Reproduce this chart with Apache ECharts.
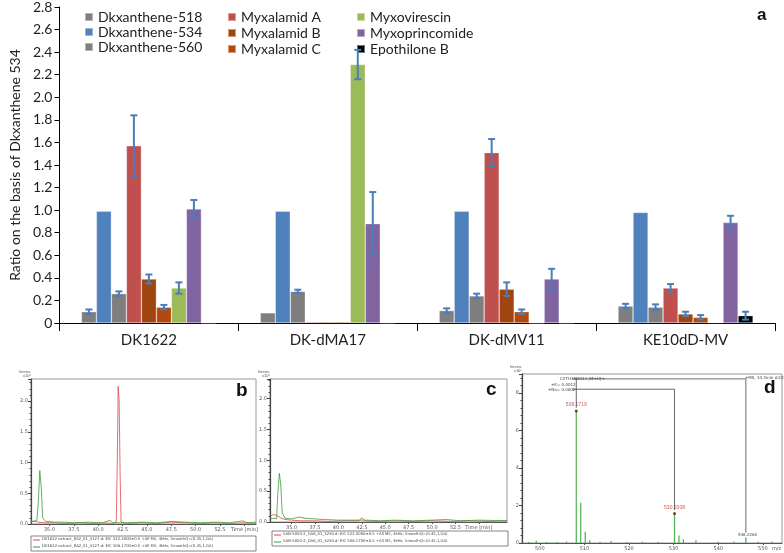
<!DOCTYPE html>
<html><head><meta charset="utf-8">
<script src="https://cdn.jsdelivr.net/npm/echarts@6/dist/echarts.min.js"></script>
<style>html,body{margin:0;padding:0;background:#fff}#c{width:784px;height:553px}</style>
</head><body><div id="c"></div><script>
// ---------- main bar chart (a) ----------
const categories = ['DK1622', 'DK-dMA17', 'DK-dMV11', 'KE10dD-MV'];
const seriesNames = ['Dkxanthene-518', 'Dkxanthene-534', 'Dkxanthene-560', 'Myxalamid A', 'Myxalamid B', 'Myxalamid C', 'Myxovirescin', 'Myxoprincomide', 'Epothilone B'];
const dk518 = [0.10, 0.09, 0.11, 0.15];
const dk534 = [0.99, 0.99, 0.99, 0.98];
const dk560 = [0.26, 0.28, 0.24, 0.14];
const myxA = [1.57, 0.01, 1.51, 0.31];
const myxB = [0.39, 0.01, 0.30, 0.08];
const myxC = [0.14, 0.01, 0.10, 0.05];
const myxovirescin = [0.31, 2.29, 0, 0.005];
const myxoprincomide = [1.01, 0.88, 0.39, 0.89];
const epothilone = [0, 0, 0, 0.065];
const err518 = [0.02, 0, 0.02, 0.02];
const err534 = [0, 0, 0, 0];
const err560 = [0.02, 0.015, 0.02, 0.025];
const errA = [0.27, 0, 0.12, 0.035];
const errB = [0.04, 0, 0.06, 0.02];
const errC = [0.02, 0, 0.02, 0.02];
const errVirescin = [0.05, 0.13, 0, 0];
const errPrincomide = [0.08, 0.28, 0.09, 0.06];
const errEpo = [0, 0, 0, 0.035];
const yTicks = [0, 0.2, 0.4, 0.6, 0.8, 1.0, 1.2, 1.4, 1.6, 1.8, 2.0, 2.2, 2.4, 2.6, 2.8];

// ---------- chromatogram (b) ----------
const chromB_red = [[33.1,0.03],[33.4,0.05],[33.8,0.03],[34.5,0.02],[35.5,0.02],[36.5,0.01],[38,0.02],[39.5,0.01],[40.5,0.02],[41.5,0.01],[41.85,0.03],[41.95,0.9],[42.05,2.24],[42.15,2.0],[42.25,0.8],[42.35,0.03],[43,0.01],[44.5,0.02],[46,0.01],[47.5,0.03],[49,0.02],[50.5,0.01],[52,0.02],[53.5,0.01],[55,0.02],[56.2,0.01]];
const chromB_green = [[33.1,0.05],[33.4,0.04],[33.7,0.06],[33.85,0.35],[34.0,0.87],[34.15,0.6],[34.3,0.1],[34.6,0.04],[35.5,0.03],[36.5,0.03],[37.5,0.02],[39,0.03],[40.5,0.02],[41.2,0.06],[41.5,0.02],[43,0.02],[44.5,0.03],[46,0.02],[47.5,0.04],[49,0.03],[50.5,0.02],[52,0.03],[53.5,0.02],[54.8,0.05],[55.3,0.02],[56.2,0.03]];
const chromB_yTicks = [0, 0.5, 1.0, 1.5, 2.0];
const chromB_xTicks = [35, 37.5, 40, 42.5, 45, 47.5, 50, 52.5, 55];

// ---------- chromatogram (c) ----------
const chromC_red = [[32.7,0.09],[33.0,0.12],[33.4,0.11],[33.8,0.07],[34.3,0.04],[35,0.03],[36,0.02],[37.5,0.02],[39,0.01],[40.5,0.02],[42.2,0.02],[42.5,0.07],[42.8,0.02],[44,0.01],[46,0.02],[48,0.01],[50,0.02],[52,0.01],[54,0.02],[56,0.01],[58,0.02]];
const chromC_green = [[32.7,0.05],[33.1,0.06],[33.4,0.05],[33.55,0.5],[33.7,0.79],[33.85,0.6],[34.0,0.15],[34.3,0.06],[35,0.05],[35.8,0.08],[36.5,0.06],[37.5,0.05],[38.5,0.04],[40,0.03],[41.5,0.03],[43,0.03],[44.5,0.02],[46,0.03],[48,0.02],[50,0.03],[51.5,0.04],[53,0.02],[55,0.03],[58,0.02]];
const chromC_yTicks = [0, 0.5, 1.0, 1.5, 2.0];
const chromC_xTicks = [35, 37.5, 40, 42.5, 45, 47.5, 50, 52.5, 55];

// ---------- mass spectrum (d) ----------
const ms_mz = [497.5, 499.2, 501.5, 503.8, 506.0, 508.17, 509.17, 510.18, 511.2, 513.5, 516.0, 519.5, 523.0, 526.5, 530.2, 531.2, 532.2, 535.0, 540.0, 543.5, 546.2, 549.0, 552.0];
const ms_int = [0.05, 0.12, 0.06, 0.05, 0.08, 7.03, 2.14, 0.6, 0.15, 0.06, 0.1, 0.05, 0.07, 0.05, 1.57, 0.4, 0.2, 0.15, 0.06, 0.08, 0.3, 0.06, 0.08];
const ms_marked = [[508.17, 7.03], [530.2, 1.57]];
const ms_markLabels = ['508.1719', '530.2008'];
const ms_annTop = [[507.3, 8.74], [546.2, 8.74], [546.2, 0.55]];
const ms_annMid = [[507.3, 8.19], [530.2, 8.19], [530.2, 1.75]];
const ms_annPeak = [[508.17, 8.74], [508.17, 7.2]];
const ms_yTicks = [0, 2, 4, 6, 8];
const ms_xTicks = [500, 510, 520, 530, 540, 550];

const COLORS = ['#7f7f7f', '#4f81bd', '#7f7f7f', '#c0504d', '#a0450f', '#b4470c', '#9bbb59', '#8064a2', '#000000'];
const ERR_COLOR = '#4a7ebb';
const BAR_W = 15;
const FONT = 'Lato, "Open Sans", sans-serif';

const values = [dk518, dk534, dk560, myxA, myxB, myxC, myxovirescin, myxoprincomide, epothilone];
const errs = [err518, err534, err560, errA, errB, errC, errVirescin, errPrincomide, errEpo];
const N = values.length;

const errData = [];
values.forEach((arr, s) => arr.forEach((v, c) => { if (errs[s][c] > 0) errData.push([c, s, v, errs[s][c]]); }));

const barSeries = seriesNames.map((name, i) => ({
  name, type: 'bar', xAxisIndex: 0, yAxisIndex: 0,
  data: values[i], barWidth: BAR_W, barGap: '0%',
  itemStyle: { color: COLORS[i], borderColor: 'rgba(255,255,255,0.45)', borderWidth: 0.6 },
  silent: true
}));

const errSeries = {
  type: 'custom', xAxisIndex: 0, yAxisIndex: 0, z: 10, silent: true,
  encode: { x: 0, y: 2 },
  data: errData,
  renderItem(params, api) {
    const c = api.value(0), s = api.value(1), v = api.value(2), e = api.value(3);
    const base = api.coord([c, v]);
    const x = base[0] - BAR_W * N / 2 + (s + 0.5) * BAR_W;
    const yt = api.coord([c, v + e])[1], yb = api.coord([c, Math.max(v - e, 0)])[1];
    const hw = 3.5, st = { stroke: ERR_COLOR, lineWidth: 2 };
    return { type: 'group', children: [
      { type: 'line', shape: { x1: x, y1: yt, x2: x, y2: yb }, style: st },
      { type: 'line', shape: { x1: x - hw, y1: yt, x2: x + hw, y2: yt }, style: st },
      { type: 'line', shape: { x1: x - hw, y1: yb, x2: x + hw, y2: yb }, style: st }
    ] };
  }
};

function legendCol(names, left, top, gap) {
  return { show: true, orient: 'vertical', left, top, itemWidth: 8, itemHeight: 8, itemGap: gap, icon: 'rect',
    padding: 0, data: names, selectedMode: false,
    textStyle: { fontFamily: FONT, fontSize: 14, color: '#222', lineHeight: 14, padding: [0, 0, 0, 0] } };
}

const smallLbl = { fontSize: 5, color: '#555', fontFamily: 'DejaVu Sans' };
function chromX(grid, min, max, ticks) {
  return { type: 'value', gridIndex: grid, min, max,
    axisLine: { show: true, lineStyle: { color: '#555', width: 1 } },
    axisTick: { show: true, length: 2, customValues: ticks, lineStyle: { color: '#555' } },
    axisLabel: Object.assign({ customValues: ticks, margin: 3,
      formatter: v => (v === 55 ? 'Time [min]' : v.toFixed(1)) }, smallLbl),
    splitLine: { show: false } };
}
function chromY(grid, max, ticks, interval, name) {
  return { type: 'value', gridIndex: grid, min: 0, max, interval,
    name, nameLocation: 'end', nameGap: 1, nameTextStyle: { fontSize: 4, color: '#555', align: 'right' },
    axisLine: { show: true, lineStyle: { color: '#444', width: 1.2 } },
    axisTick: { show: true, length: 3, lineStyle: { color: '#444' } },
    minorTick: { show: true, splitNumber: 5, length: 1.5, lineStyle: { color: '#444' } },
    axisLabel: Object.assign({ customValues: ticks, margin: 3,
      formatter: v => (interval < 1 ? v.toFixed(1) : String(v)) }, smallLbl),
    splitLine: { show: false } };
}

const option = {
  backgroundColor: '#fff',
  animation: false,
  legend: [
    legendCol(seriesNames.slice(0, 3), 84, 10, 1),
    legendCol(seriesNames.slice(3, 6), 227, 10, 2),
    legendCol(seriesNames.slice(6, 9), 356, 10, 2)
  ],
  grid: [
    { left: 55, right: 9, top: 7, bottom: 230, containLabel: false },
    { left: 31, top: 379, width: 225, height: 145, show: true, borderColor: '#9a9a9a', borderWidth: 1 },
    { left: 270, top: 379, width: 237, height: 143, show: true, borderColor: '#9a9a9a', borderWidth: 1 },
    { left: 522, top: 374, width: 260, height: 169, show: true, borderColor: '#9a9a9a', borderWidth: 1 }
  ],
  xAxis: [
    { type: 'category', gridIndex: 0, data: categories,
      axisLine: { show: true, lineStyle: { color: '#000', width: 1 } },
      axisTick: { show: true, length: 8, alignWithLabel: false, lineStyle: { color: '#000' } },
      axisLabel: { fontFamily: FONT, fontSize: 15, color: '#222', margin: 10 } },
    chromX(1, 33.1, 56.2, chromB_xTicks),
    chromX(2, 32.7, 58.0, chromC_xTicks),
    { type: 'value', gridIndex: 3, min: 496, max: 554.3,
      axisLine: { show: true, lineStyle: { color: '#555' } },
      axisTick: { show: true, length: 2, customValues: ms_xTicks },
      axisLabel: Object.assign({ customValues: ms_xTicks, margin: 3 }, smallLbl),
      splitLine: { show: false } }
  ],
  yAxis: [
    { type: 'value', gridIndex: 0, min: 0, max: 2.8, interval: 0.2,
      name: 'Ratio on the basis of Dkxanthene 534', nameLocation: 'middle', nameGap: 37,
      nameTextStyle: { fontFamily: FONT, fontSize: 14, color: '#222' },
      axisLine: { show: true, lineStyle: { color: '#000', width: 1 } },
      axisTick: { show: true, length: 5, lineStyle: { color: '#000' } },
      axisLabel: { customValues: yTicks, fontFamily: FONT, fontSize: 14, color: '#222', margin: 7,
        formatter: v => (v === 0 ? '0' : v.toFixed(1)) },
      splitLine: { show: false } },
    chromY(1, 2.36, chromB_yTicks, 0.5, 'Intens.\nx10⁶'),
    chromY(2, 2.32, chromC_yTicks, 0.5, 'Intens.\nx10⁶'),
    chromY(3, 9, ms_yTicks, 2, 'Intens.\nx10⁵')
  ],
  series: [
    ...barSeries,
    errSeries,
    { type: 'line', xAxisIndex: 1, yAxisIndex: 1, data: chromB_red, symbol: 'none', silent: true, lineStyle: { color: '#e0474c', width: 0.8 } },
    { type: 'line', xAxisIndex: 1, yAxisIndex: 1, data: chromB_green, symbol: 'none', silent: true, lineStyle: { color: '#3a9a3a', width: 0.8 } },
    { type: 'line', xAxisIndex: 2, yAxisIndex: 2, data: chromC_red, symbol: 'none', silent: true, lineStyle: { color: '#e0474c', width: 0.8 } },
    { type: 'line', xAxisIndex: 2, yAxisIndex: 2, data: chromC_green, symbol: 'none', silent: true, lineStyle: { color: '#3a9a3a', width: 0.8 } },
    { type: 'bar', xAxisIndex: 3, yAxisIndex: 3, data: ms_mz.map((m, i) => [m, ms_int[i]]), barWidth: 1.2, silent: true, itemStyle: { color: '#4caf50' } },
    { type: 'line', xAxisIndex: 3, yAxisIndex: 3, data: ms_annTop, symbol: 'none', silent: true, lineStyle: { color: '#444', width: 0.8 } },
    { type: 'line', xAxisIndex: 3, yAxisIndex: 3, data: ms_annMid, symbol: 'none', silent: true, lineStyle: { color: '#444', width: 0.8 } },
    { type: 'line', xAxisIndex: 3, yAxisIndex: 3, data: ms_annPeak, symbol: 'none', silent: true, lineStyle: { color: '#444', width: 0.8 } },
    { type: 'scatter', xAxisIndex: 3, yAxisIndex: 3, data: ms_marked, symbolSize: 3, silent: true, itemStyle: { color: '#6b1010' },
      label: { show: true, position: 'top', distance: 2, fontSize: 5, color: '#c03030', formatter: p => ms_markLabels[p.dataIndex] } }
  ],
  graphic: [
    { type: 'text', left: 757, top: 7, style: { text: 'a', font: 'bold 17px "Liberation Sans", Arial', fill: '#111' } },
    { type: 'text', left: 236, top: 381, style: { text: 'b', font: 'bold 19px "Liberation Sans", Arial', fill: '#111' } },
    { type: 'text', left: 486, top: 380, style: { text: 'c', font: 'bold 19px "Liberation Sans", Arial', fill: '#111' } },
    { type: 'text', left: 764, top: 378, style: { text: 'd', font: 'bold 19px "Liberation Sans", Arial', fill: '#111' } },
    { type: 'text', left: 772, top: 546, style: { text: 'm/z', font: '5px "DejaVu Sans"', fill: '#555' } },
    // legend boxes below b and c
    { type: 'rect', shape: { x: 31, y: 536, width: 225, height: 15 }, style: { fill: '#fff', stroke: '#666', lineWidth: 0.8 } },
    { type: 'line', shape: { x1: 33, y1: 540, x2: 40, y2: 540 }, style: { stroke: '#e0474c', lineWidth: 1 } },
    { type: 'line', shape: { x1: 33, y1: 547, x2: 40, y2: 547 }, style: { stroke: '#3a9a3a', lineWidth: 1 } },
    { type: 'text', left: 42, top: 537.5, style: { text: 'DK1622 extract_RA2_01_3127.d: EIC 522.3000±0.5 +All MS, 4kHz, SmoothQ=(0.45,1,GA)', font: '3.8px "DejaVu Sans"', fill: '#444' } },
    { type: 'text', left: 42, top: 544.5, style: { text: 'DK1622 extract_RA2_01_3127.d: EIC 508.1700±0.5 +All MS, 4kHz, SmoothQ=(0.45,1,GA)', font: '3.8px "DejaVu Sans"', fill: '#444' } },
    { type: 'rect', shape: { x: 272, y: 531, width: 236, height: 15 }, style: { fill: '#fff', stroke: '#666', lineWidth: 0.8 } },
    { type: 'line', shape: { x1: 274, y1: 535, x2: 281, y2: 535 }, style: { stroke: '#e0474c', lineWidth: 1 } },
    { type: 'line', shape: { x1: 274, y1: 542, x2: 281, y2: 542 }, style: { stroke: '#3a9a3a', lineWidth: 1 } },
    { type: 'text', left: 283, top: 532.5, style: { text: 'SAN-5050-2_GA6_01_3230.d: EIC 522.3000±0.5 +All MS, 4kHz, SmoothQ=(0.45,1,GA)', font: '3.8px "DejaVu Sans"', fill: '#444' } },
    { type: 'text', left: 283, top: 539.5, style: { text: 'SAN-5050-2_GA6_01_3230.d: EIC 508.1700±0.5 +All MS, 4kHz, SmoothQ=(0.45,1,GA)', font: '3.8px "DejaVu Sans"', fill: '#444' } },
    // mass spectrum annotations
    { type: 'text', left: 560, top: 377, style: { text: 'C27H38NO11 [M+H]+', font: '4px "DejaVu Sans"', fill: '#444' } },
    { type: 'text', left: 745, top: 376, style: { text: '+MS, 34.3min #2033', font: '4px "DejaVu Sans"', fill: '#444' } },
    { type: 'text', left: 551, top: 383, style: { text: '+K= 0.0012', font: '4px "DejaVu Sans"', fill: '#444' } },
    { type: 'text', left: 548, top: 387.5, style: { text: '+Na= 0.0002', font: '4px "DejaVu Sans"', fill: '#444' } },
    { type: 'text', left: 738, top: 533, style: { text: '546.2260', font: '4px "DejaVu Sans"', fill: '#444' } }
  ]
};
const chart = echarts.init(document.getElementById('c'), null, { renderer: 'canvas' });
chart.setOption(option);
</script></body></html>
